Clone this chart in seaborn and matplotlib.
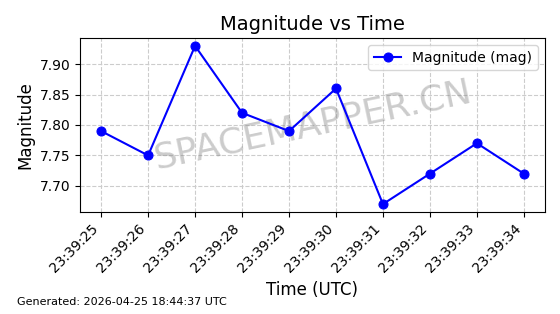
import matplotlib
matplotlib.use("Agg")
import matplotlib.pyplot as plt
import seaborn as sns
import pandas as pd

times = ["23:39:25", "23:39:26", "23:39:27", "23:39:28", "23:39:29",
         "23:39:30", "23:39:31", "23:39:32", "23:39:33", "23:39:34"]
magnitudes = [7.79, 7.75, 7.93, 7.82, 7.79, 7.86, 7.67, 7.72, 7.77, 7.72]

df = pd.DataFrame({"Time": times, "Magnitude": magnitudes})

fig = plt.figure(figsize=(5.6, 3.14), dpi=100)
ax = fig.add_axes([80/560, 1-212/314, 465/560, 174/314])

sns.lineplot(data=df, x="Time", y="Magnitude", ax=ax, color="blue",
             marker="o", markersize=6.5, markeredgecolor="blue",
             linewidth=1.5, label="Magnitude (mag)", zorder=3)

ax.grid(True, linestyle="--", color="#cccccc", linewidth=0.8)
ax.set_axisbelow(True)
ax.set_title("Magnitude vs Time", fontsize=14)
ax.set_xlabel("Time (UTC)", fontsize=12)
ax.set_ylabel("Magnitude", fontsize=12)
plt.setp(ax.get_xticklabels(), rotation=45, ha="right", rotation_mode="default")
ax.tick_params(labelsize=10)
ax.legend(loc="upper right", fontsize=10)

ax.text(0.5, 0.5, "SPACEMAPPER.CN", transform=ax.transAxes, fontsize=26,
        color="gray", alpha=0.4, rotation=12, ha="center", va="center", zorder=1)

fig.text(17/560, 1-305/314, "Generated: 2026-04-25 18:44:37 UTC", fontsize=8,
         ha="left", va="baseline")

fig.savefig("out.png", dpi=100)
